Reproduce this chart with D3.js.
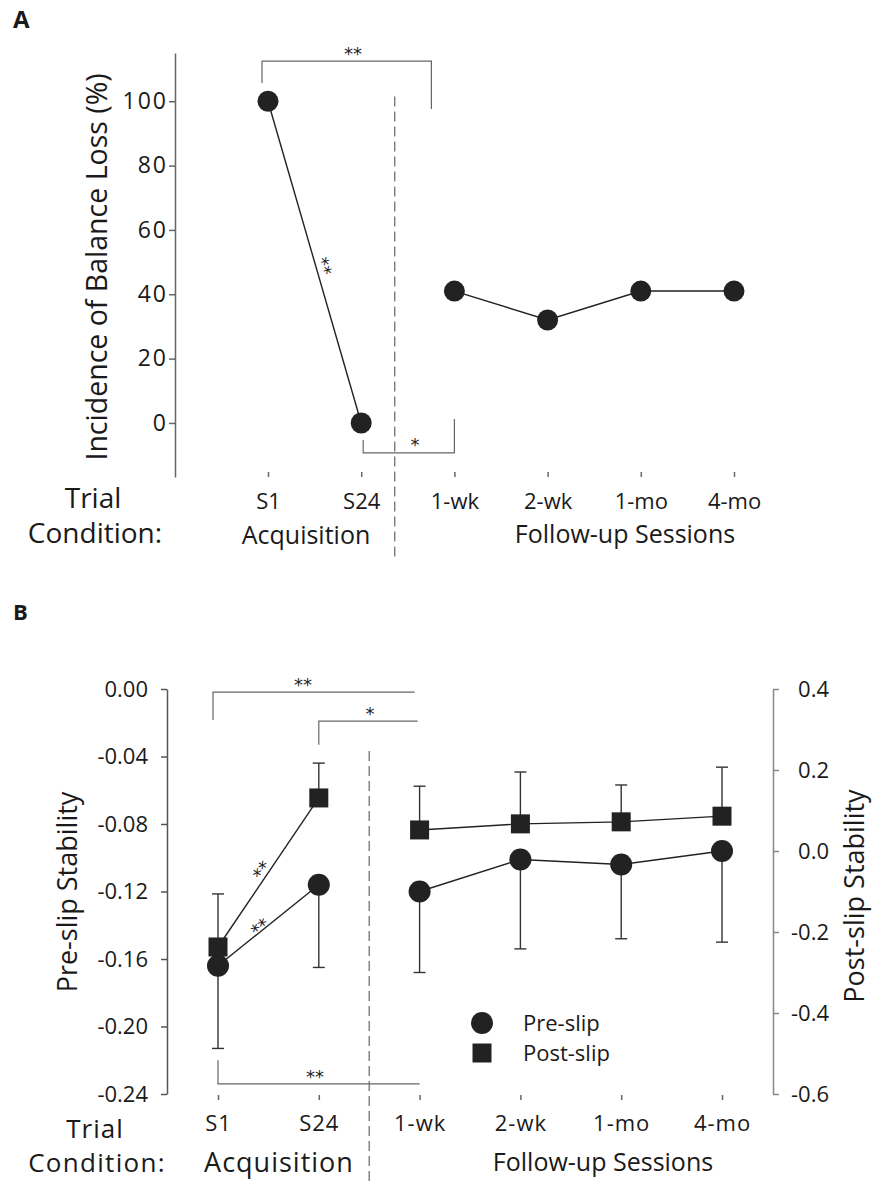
<!DOCTYPE html>
<html>
<head>
<meta charset="utf-8">
<script src="https://cdn.jsdelivr.net/npm/d3@7"></script>
<style>
  body { margin: 0; background: #fff; }
  svg text { font-family: "Open Sans", Lato, sans-serif; fill: #1a1a1a; }
  svg text.star { font-family: "DejaVu Sans", sans-serif; fill: #222; }
</style>
</head>
<body>
<svg id="chart" width="872" height="1184"></svg>
<script>
/* Data */
var conditions = ["S1", "S24", "1-wk", "2-wk", "1-mo", "4-mo"];
var segments = [[0, 1], [2, 3, 4, 5]];           // acquisition / follow-up are not joined

// panel A : incidence of balance loss (%)
var lossPct = [100, 0, 41, 32, 41, 41];
var lossTicks = [0, 20, 40, 60, 80, 100];

// panel B : stability (pre-slip on left axis, post-slip on right axis)
var preSlip     = [-0.164, -0.116, -0.120, -0.101, -0.104, -0.096];
var preSlipErr  = [0.049, 0.049, 0.048, 0.053, 0.044, 0.054];
var postSlip    = [-0.237, 0.131, 0.052, 0.067, 0.072, 0.086];
var postSlipErr = [0.131, 0.086, 0.108, 0.128, 0.091, 0.121];
var preTicks  = [-0.24, -0.20, -0.16, -0.12, -0.08, -0.04, 0.00];
var postTicks = [-0.6, -0.4, -0.2, 0.0, 0.2, 0.4];

/* Settings */
var ink = "#222";
var grey = "#666";
var svg = d3.select("#chart");

function styleAxis(g, size, col) {
  g.selectAll("path, line").attr("stroke", col).attr("stroke-width", 1.5);
  g.selectAll("text").style("font-size", size + "px").attr("fill", "#1a1a1a")
    .attr("font-family", null);
}

function bracket(g, pts) {
  g.append("path")
    .attr("d", d3.line()(pts))
    .attr("fill", "none")
    .attr("stroke", grey)
    .attr("stroke-width", 1.2);
}

function stars(g, x, y, txt) {
  g.append("text").attr("class", "star").attr("x", x).attr("y", y)
    .attr("text-anchor", "middle").style("font-size", "18px").text(txt);
}

// stars rotated along a line segment
function slopeStars(g, p1, p2, t, off, txt) {
  var ang = Math.atan2(p2[1] - p1[1], p2[0] - p1[0]) * 180 / Math.PI;
  var px = p1[0] + (p2[0] - p1[0]) * t, py = p1[1] + (p2[1] - p1[1]) * t;
  g.append("text").attr("class", "star")
    .attr("transform", `translate(${px},${py}) rotate(${ang})`)
    .attr("y", -off)
    .attr("text-anchor", "middle").style("font-size", "18px").text(txt);
}

/* ---------------- Panel A ---------------- */
var gA = svg.append("g");
var xA = d3.scalePoint().domain(conditions).range([268, 734]);
var yA = d3.scaleLinear().domain([-16.8, 115]).range([477, 53]);

gA.append("text").attr("x", 13).attr("y", 28)
  .style("font-size", "24px").style("font-weight", "bold").text("A");

var yAxA = gA.append("g").attr("transform", "translate(175,0)")
  .call(d3.axisLeft(yA).tickValues(lossTicks).tickSize(6).tickSizeOuter(0).tickPadding(1));
styleAxis(yAxA, 23, grey);
yAxA.selectAll("text").style("letter-spacing", "2px");

var xAxA = gA.append("g").attr("transform", "translate(0,472)")
  .call(d3.axisBottom(xA).tickSize(5).tickPadding(16));
xAxA.select(".domain").remove();
styleAxis(xAxA, 22, grey);

gA.append("text")
  .attr("transform", "translate(107,267) rotate(-90)")
  .attr("text-anchor", "middle").style("font-size", "28.5px")
  .text("Incidence of Balance Loss (%)");

gA.append("text").attr("x", 93).attr("y", 508).attr("text-anchor", "middle")
  .style("font-size", "28px").text("Trial");
gA.append("text").attr("x", 95).attr("y", 543).attr("text-anchor", "middle")
  .style("font-size", "28px").text("Condition:");
gA.append("text").attr("x", 306).attr("y", 544).attr("text-anchor", "middle")
  .style("font-size", "25px").text("Acquisition");
gA.append("text").attr("x", 625).attr("y", 543).attr("text-anchor", "middle")
  .style("font-size", "25px").text("Follow-up Sessions");

// divider
var divA = xA("S24") + xA.step() * 0.36;
gA.append("line")
  .attr("x1", divA).attr("x2", divA).attr("y1", yA(101.5)).attr("y2", 557)
  .attr("stroke", grey).attr("stroke-width", 1.2).attr("stroke-dasharray", "10,5");

// significance
bracket(gA, [[xA("S1") - 6, yA(105.7)], [xA("S1") - 6, yA(112.5)],
             [xA("1-wk") - 23, yA(112.5)], [xA("1-wk") - 23, yA(97.6)]]);
stars(gA, 353, yA(112.5) - 1, "**");
bracket(gA, [[xA("S24") + 2, yA(-5.3)], [xA("S24") + 2, yA(-9.3)],
             [xA("1-wk"), yA(-9.3)], [xA("1-wk"), yA(1.2)]]);
stars(gA, 415, yA(-9.3) - 2, "*");

var lineA = d3.line().x(i => xA(conditions[i])).y(i => yA(lossPct[i]));
gA.selectAll(".segA").data(segments).enter().append("path")
  .attr("class", "segA")
  .attr("d", lineA).attr("fill", "none").attr("stroke", ink).attr("stroke-width", 1.4);

slopeStars(gA, [xA("S1"), yA(100)], [xA("S24"), yA(0)], 0.52, 1, "**");

gA.selectAll(".dotA").data(lossPct).enter().append("circle")
  .attr("class", "dotA")
  .attr("cx", (d, i) => xA(conditions[i])).attr("cy", d => yA(d))
  .attr("r", 10.5).attr("fill", ink);

/* ---------------- Panel B ---------------- */
var gB = svg.append("g");
var xB = d3.scalePoint().domain(conditions).range([218, 722]);
var yL = d3.scaleLinear().domain([-0.24, 0]).range([1094, 689]);
var yR = d3.scaleLinear().domain([-0.6, 0.4]).range([1094, 689]);

gB.append("text").attr("x", 13).attr("y", 620)
  .style("font-size", "22px").style("font-weight", "bold").text("B");

var yAxL = gB.append("g").attr("transform", "translate(167,0)")
  .call(d3.axisLeft(yL).tickValues(preTicks).tickSize(6).tickSizeOuter(0)
    .tickPadding(13).tickFormat(d => d.toFixed(2)));
styleAxis(yAxL, 22, "#555");

var yAxR = gB.append("g").attr("transform", "translate(773,0)")
  .call(d3.axisRight(yR).tickValues(postTicks).tickSize(6).tickSizeOuter(0)
    .tickFormat(d => d.toFixed(1)));
yAxR.selectAll("text").attr("x", 56).attr("text-anchor", "end");
styleAxis(yAxR, 22, "#888");

var xAxB = gB.append("g").attr("transform", "translate(0,1095)")
  .call(d3.axisBottom(xB).tickSize(5).tickPadding(15));
xAxB.select(".domain").remove();
styleAxis(xAxB, 22, grey);
xAxB.selectAll("text").style("letter-spacing", "1px");

gB.append("text")
  .attr("transform", "translate(77,892) rotate(-90)")
  .attr("text-anchor", "middle").style("font-size", "27px").text("Pre-slip Stability");
gB.append("text")
  .attr("transform", "translate(864,896) rotate(-90)")
  .attr("text-anchor", "middle").style("font-size", "27px").text("Post-slip Stability");

gB.append("text").attr("x", 95).attr("y", 1138).attr("text-anchor", "middle")
  .style("font-size", "26px").style("letter-spacing", "1px").text("Trial");
gB.append("text").attr("x", 97).attr("y", 1172).attr("text-anchor", "middle")
  .style("font-size", "26px").style("letter-spacing", "1.3px").text("Condition:");
gB.append("text").attr("x", 279).attr("y", 1172).attr("text-anchor", "middle")
  .style("font-size", "27px").style("letter-spacing", "1px").text("Acquisition");
gB.append("text").attr("x", 603).attr("y", 1171).attr("text-anchor", "middle")
  .style("font-size", "25px").text("Follow-up Sessions");

var divB = xB("S24") + xB.step() * 0.5;
gB.append("line")
  .attr("x1", divB).attr("x2", divB).attr("y1", yL(-0.0367)).attr("y2", 1184)
  .attr("stroke", grey).attr("stroke-width", 1.2).attr("stroke-dasharray", "10,5");

// significance
bracket(gB, [[xB("S1") - 5, yL(-0.0184)], [xB("S1") - 5, yL(-0.0018)], [xB("1-wk") - 5, yL(-0.0018)]]);
stars(gB, 303, yL(-0.0018) - 1, "**");
bracket(gB, [[xB("S24"), yL(-0.033)], [xB("S24"), yL(-0.019)], [xB("1-wk") - 2, yL(-0.019)]]);
stars(gB, 370, yL(-0.019) - 1, "*");
bracket(gB, [[xB("S1"), yL(-0.220)], [xB("S1"), yL(-0.234)], [xB("1-wk"), yL(-0.234)]]);
stars(gB, 315, yL(-0.234) - 1, "**");

// error bars
var cap = 6;
var preBars = gB.selectAll(".errPre").data(preSlip).enter().append("g").attr("class", "errPre");
preBars.append("line")
  .attr("x1", (d, i) => xB(conditions[i])).attr("x2", (d, i) => xB(conditions[i]))
  .attr("y1", d => yL(d)).attr("y2", (d, i) => yL(d - preSlipErr[i]));
preBars.append("line")
  .attr("x1", (d, i) => xB(conditions[i]) - cap).attr("x2", (d, i) => xB(conditions[i]) + cap)
  .attr("y1", (d, i) => yL(d - preSlipErr[i])).attr("y2", (d, i) => yL(d - preSlipErr[i]));
var postBars = gB.selectAll(".errPost").data(postSlip).enter().append("g").attr("class", "errPost");
postBars.append("line")
  .attr("x1", (d, i) => xB(conditions[i])).attr("x2", (d, i) => xB(conditions[i]))
  .attr("y1", d => yR(d)).attr("y2", (d, i) => yR(d + postSlipErr[i]));
postBars.append("line")
  .attr("x1", (d, i) => xB(conditions[i]) - cap).attr("x2", (d, i) => xB(conditions[i]) + cap)
  .attr("y1", (d, i) => yR(d + postSlipErr[i])).attr("y2", (d, i) => yR(d + postSlipErr[i]));
gB.selectAll(".errPre line, .errPost line").attr("stroke", "#333").attr("stroke-width", 1.4);

// lines
var linePre = d3.line().x(i => xB(conditions[i])).y(i => yL(preSlip[i]));
var linePost = d3.line().x(i => xB(conditions[i])).y(i => yR(postSlip[i]));
gB.selectAll(".segPre").data(segments).enter().append("path").attr("class", "segPre")
  .attr("d", linePre).attr("fill", "none").attr("stroke", ink).attr("stroke-width", 1.4);
gB.selectAll(".segPost").data(segments).enter().append("path").attr("class", "segPost")
  .attr("d", linePost).attr("fill", "none").attr("stroke", ink).attr("stroke-width", 1.4);

slopeStars(gB, [xB("S1"), yR(postSlip[0])], [xB("S24"), yR(postSlip[1])], 0.49, 0, "**");
slopeStars(gB, [xB("S1"), yL(preSlip[0])], [xB("S24"), yL(preSlip[1])], 0.44, -3, "**");

// markers
var sq = 19;
gB.selectAll(".sqPost").data(postSlip).enter().append("rect").attr("class", "sqPost")
  .attr("x", (d, i) => xB(conditions[i]) - sq / 2).attr("y", d => yR(d) - sq / 2)
  .attr("width", sq).attr("height", sq).attr("fill", ink);
gB.selectAll(".dotPre").data(preSlip).enter().append("circle").attr("class", "dotPre")
  .attr("cx", (d, i) => xB(conditions[i])).attr("cy", d => yL(d))
  .attr("r", 11).attr("fill", ink);

// legend
var leg = gB.append("g").attr("transform", "translate(482,1023)");
leg.append("circle").attr("cx", 0).attr("cy", 0).attr("r", 11).attr("fill", ink);
leg.append("rect").attr("x", -sq / 2).attr("y", 30 - sq / 2).attr("width", sq).attr("height", sq).attr("fill", ink);
leg.append("text").attr("x", 41).attr("y", 8).style("font-size", "22px").text("Pre-slip");
leg.append("text").attr("x", 41).attr("y", 38).style("font-size", "22px").text("Post-slip");
</script>
</body>
</html>
